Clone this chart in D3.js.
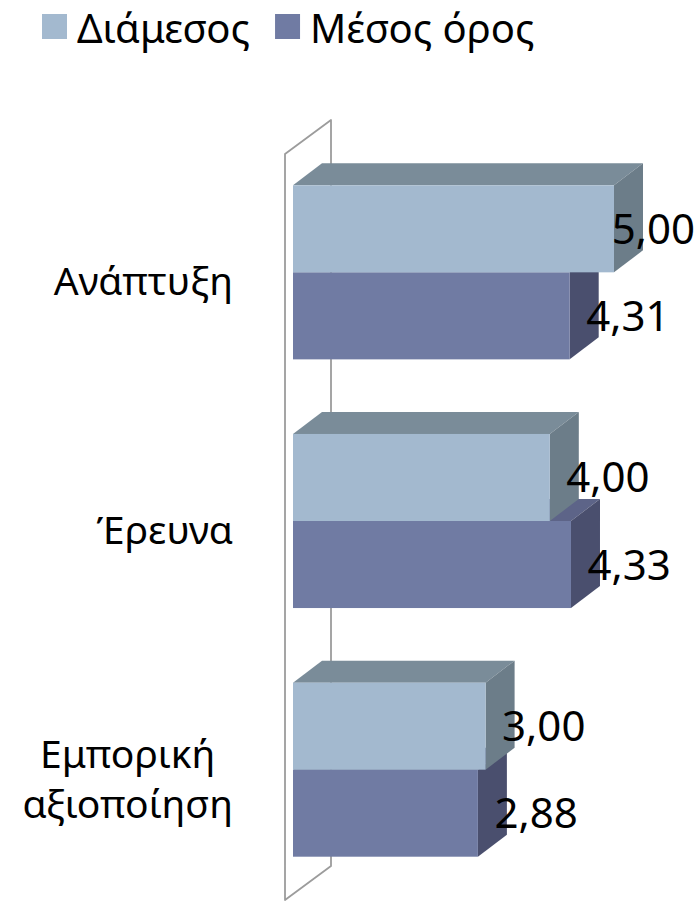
<!DOCTYPE html>
<html>
<head>
<meta charset="utf-8">
<script src="https://cdn.jsdelivr.net/npm/d3@7"></script>
<style>
  body { margin: 0; background: #fff; }
  svg { display: block; font-family: "Noto Sans", "Open Sans", sans-serif; }
</style>
</head>
<body>
<svg id="chart" width="700" height="902"></svg>
<script>
// Chart data
const categories = ['Ανάπτυξη', 'Έρευνα', 'Εμπορική αξιοποίηση'];
const categoryLines = [['Ανάπτυξη'], ['Έρευνα'], ['Εμπορική', 'αξιοποίηση']];
const seriesNames = ['Διάμεσος', 'Μέσος όρος'];
const medianValues = [5.00, 4.00, 3.00];
const meanValues = [4.31, 4.33, 2.88];

const w = 700, h = 902;
const svg = d3.select('#chart');

// Colours: front, top, side for each series
const colors = {
    'Διάμεσος': { front: '#a3b9cf', top: '#7a8c99', side: '#6c7d89' },
    'Μέσος όρος': { front: '#707ba3', top: '#5d6488', side: '#4a4f6e' }
};

// 3D offsets
const barDepth = { dx: 29, dy: -22 };
const wallDepth = { dx: 46, dy: -34 };
const barShift = { dx: 8, dy: -6 };   // bar front plane relative to wall front

// Scales
const x = d3.scaleLinear().domain([0, 5]).range([293, 614]);
const y = d3.scaleBand()
    .domain(categories)
    .range([148, 894])
    .paddingInner(0.3)
    .paddingOuter(0.15);
const ySub = d3.scaleBand().domain(seriesNames).range([0, y.bandwidth()]);

// Wall (left side plane)
const wx = x(0) - barShift.dx;
const wy0 = y.range()[0] - barShift.dy;
const wy1 = y.range()[1] - barShift.dy;
svg.append('path')
    .attr('d', `M${wx},${wy1} L${wx},${wy0} L${wx + wallDepth.dx},${wy0 + wallDepth.dy} L${wx + wallDepth.dx},${wy1 + wallDepth.dy} Z`)
    .attr('fill', 'none')
    .attr('stroke', '#9c9c9c')
    .attr('stroke-width', 1.8)
    .attr('stroke-linejoin', 'round');

// Bars: per category draw lower series first so upper covers its top face
const rows = categories.map((c, i) => ({
    cat: c,
    bars: [
        { name: seriesNames[1], value: meanValues[i] },
        { name: seriesNames[0], value: medianValues[i] }
    ]
}));

const fmt = v => v.toFixed(2).replace('.', ',');

rows.forEach(row => {
    row.bars.forEach(b => {
        const x0 = x(0), x1 = x(b.value);
        const y0 = y(row.cat) + ySub(b.name);
        const y1 = y0 + ySub.bandwidth();
        const dx = barDepth.dx, dy = barDepth.dy;
        const c = colors[b.name];
        const g = svg.append('g');
        g.append('path')
            .attr('d', `M${x0},${y0} L${x1},${y0} L${x1 + dx},${y0 + dy} L${x0 + dx},${y0 + dy} Z`)
            .attr('fill', c.top);
        g.append('path')
            .attr('d', `M${x1},${y0} L${x1 + dx},${y0 + dy} L${x1 + dx},${y1 + dy} L${x1},${y1} Z`)
            .attr('fill', c.side);
        g.append('rect')
            .attr('x', x0).attr('y', y0)
            .attr('width', x1 - x0).attr('height', y1 - y0)
            .attr('fill', c.front);
    });
});

// Value labels
rows.forEach(row => {
    row.bars.forEach(b => {
        const cy = y(row.cat) + ySub(b.name) + ySub.bandwidth() / 2;
        const t = svg.append('text')
            .attr('font-size', 42)
            .attr('fill', '#000')
            .attr('y', cy + 15)
            .text(fmt(b.value));
        const tw = t.node().getComputedTextLength();
        t.attr('x', Math.min(x(b.value) + barDepth.dx / 2 + 2, w - 5 - tw));
    });
});

// Category labels (block right aligned, lines centred)
categories.forEach((c, i) => {
    const lines = categoryLines[i];
    const cy = y(c) + y.bandwidth() / 2 + 10;
    const lh = 50;
    const g = svg.append('g');
    const texts = lines.map((l, j) => g.append('text')
        .attr('font-size', 39)
        .attr('text-anchor', 'middle')
        .attr('y', cy + (j - (lines.length - 1) / 2) * lh + 13)
        .text(l));
    const bw = d3.max(texts, t => t.node().getComputedTextLength());
    texts.forEach(t => t.attr('x', 233 - bw / 2));
});

// Legend
let lx = 42;
seriesNames.forEach(s => {
    svg.append('rect')
        .attr('x', lx).attr('y', 14)
        .attr('width', 25).attr('height', 25)
        .attr('fill', colors[s].front);
    const t = svg.append('text')
        .attr('x', lx + 35).attr('y', 43)
        .attr('font-size', 40)
        .text(s);
    lx += 35 + t.node().getComputedTextLength() + 25;
});
</script>
</body>
</html>
